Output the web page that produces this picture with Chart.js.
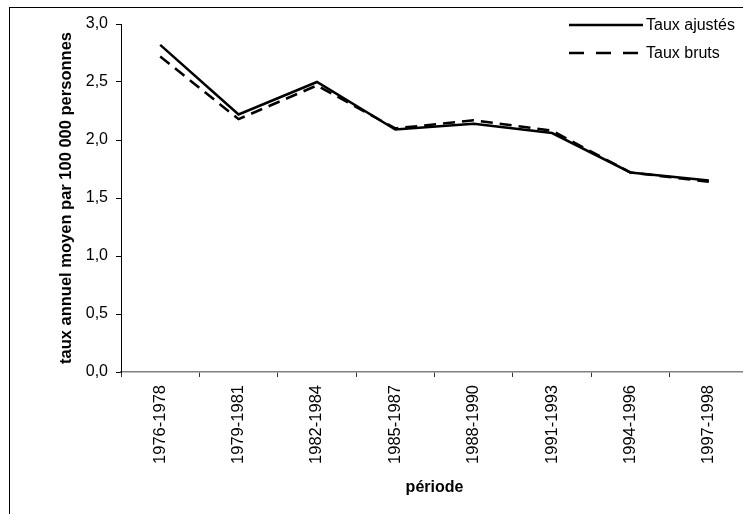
<!DOCTYPE html>
<html lang="fr">
<head>
<meta charset="UTF-8">
<title>taux annuel moyen</title>
<script src="https://cdn.jsdelivr.net/npm/chart.js"></script>
<style>
    html, body { margin: 0; padding: 0; background: #fff; overflow: hidden; }
    #frame {
        position: absolute; left: 9px; top: 7px;
        width: 800px; height: 560px;
        border: 1px solid #000;
    }
    #wrap { position: absolute; left: 0; top: 0; width: 770px; height: 514px; }
</style>
</head>
<body>
<div id="frame"></div>
<div id="wrap"><canvas id="chart"></canvas></div>
<script>
    const periodes = ['1976-1978', '1979-1981', '1982-1984', '1985-1987', '1988-1990', '1991-1993', '1994-1996', '1997-1998'];
    const tauxAjustes = [2.82, 2.22, 2.50, 2.09, 2.14, 2.06, 1.72, 1.65];
    const tauxBruts = [2.72, 2.18, 2.47, 2.10, 2.17, 2.08, 1.72, 1.64];
    const yTicks = [0, 0.5, 1.0, 1.5, 2.0, 2.5, 3.0];

    const FONT = "'Liberation Sans', Arial, sans-serif";

    // légende dessinée dans la zone du graphique, en haut à droite
    const legendInside = {
        id: 'legendInside',
        afterDraw(chart) {
            const ctx = chart.ctx;
            ctx.save();
            chart.data.datasets.forEach((ds, i) => {
                const y = 25 + i * 28;
                ctx.beginPath();
                ctx.setLineDash(ds.legendDash || []);
                ctx.lineWidth = ds.borderWidth;
                ctx.strokeStyle = ds.borderColor;
                ctx.moveTo(569, y);
                ctx.lineTo(643, y);
                ctx.stroke();
                ctx.setLineDash([]);
                ctx.fillStyle = '#000';
                ctx.font = '16px ' + FONT;
                ctx.textBaseline = 'middle';
                ctx.fillText(ds.label, 646, y + 1);
            });
            ctx.restore();
        }
    };

    new Chart(document.getElementById('chart'), {
        type: 'line',
        data: {
            labels: periodes,
            datasets: [
                { label: 'Taux ajustés', data: tauxAjustes, borderColor: '#000', borderWidth: 2.5, pointRadius: 0, tension: 0 },
                { label: 'Taux bruts', data: tauxBruts, borderColor: '#000', borderWidth: 2.5, borderDash: [12, 7], legendDash: [15, 12], pointRadius: 0, tension: 0 }
            ]
        },
        options: {
            responsive: true,
            maintainAspectRatio: false,
            animation: false,
            layout: { padding: { left: 0, top: 24, right: 22, bottom: 0 } },
            scales: {
                x: {
                    offset: true,
                    grid: { display: true, drawOnChartArea: false, offset: true, tickLength: 5, color: '#333' },
                    border: { color: '#808080', width: 1.5 },
                    ticks: { color: '#000', font: { family: FONT, size: 16.5 }, minRotation: 90, maxRotation: 90, padding: 8, autoSkip: false },
                    title: { display: true, text: 'période', color: '#000', font: { family: FONT, size: 16, weight: 'bold' }, padding: { top: 0, bottom: 17 } },
                    afterFit: s => { s.height = 142; }
                },
                y: {
                    min: 0, max: 3,
                    afterBuildTicks: s => { s.ticks = yTicks.map(v => ({ value: v })); },
                    grid: { display: true, drawOnChartArea: false, tickLength: 5, color: '#000' },
                    border: { color: '#000', width: 1 },
                    ticks: { color: '#000', font: { family: FONT, size: 16 }, padding: 8,
                        callback: v => v.toFixed(1).replace('.', ',') },
                    title: { display: true, text: 'taux annuel moyen par 100 000 personnes', color: '#000', font: { family: FONT, size: 16.5, weight: 'bold' }, padding: { top: 57, bottom: 0 } },
                    afterFit: s => { s.width = 121; }
                }
            },
            plugins: {
                legend: { display: false },
                tooltip: { enabled: false }
            }
        },
        plugins: [legendInside]
    });
</script>
</body>
</html>
